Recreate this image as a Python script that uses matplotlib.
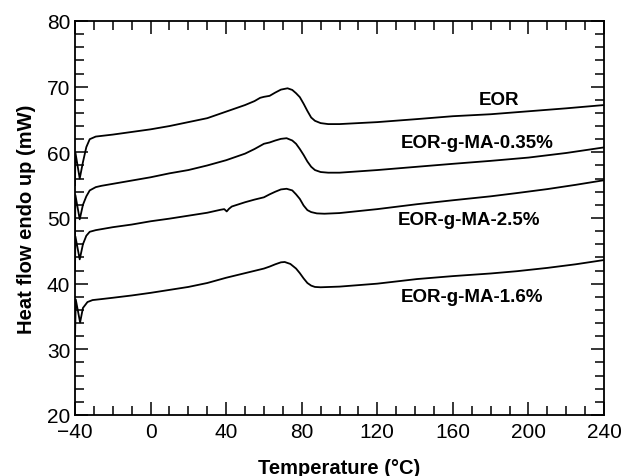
import matplotlib
matplotlib.use("Agg")
import matplotlib.pyplot as plt
from matplotlib.ticker import MultipleLocator

plt.rcParams["font.family"] = ["Liberation Sans", "DejaVu Sans"]

# DSC curves (temperature in C, heat flow in mW)
t_eor = [-40, -39.8, -37.5, -35.8, -34, -32.2, -29, -26, -20, -10, 0, 10, 20, 30, 40, 50, 55, 58, 60, 63, 66,
         69, 72.5, 75, 77, 79, 81, 83, 85, 87, 90, 94, 100, 120, 141, 160, 180, 200, 220, 240]
hf_eor = [55, 60, 56.0, 58.5, 60.8, 62.0, 62.4, 62.5, 62.7, 63.1, 63.5, 64.0, 64.6, 65.2, 66.2, 67.2, 67.8, 68.3,
          68.45, 68.6, 69.1, 69.55, 69.75, 69.5, 69.0, 68.4, 67.4, 66.3, 65.3, 64.8, 64.45, 64.3, 64.3, 64.6,
          65.06, 65.5, 65.8, 66.25, 66.7, 67.2]

t_035 = [-40, -39.8, -37.5, -35.8, -34, -32.2, -29, -26, -20, -10, 0, 10, 20, 30, 40, 50, 55, 60, 63, 66, 69,
         72, 75, 77, 79, 81, 83, 85, 87, 90, 94, 100, 120, 141, 160, 180, 200, 220, 240]
hf_035 = [47, 53.5, 49.8, 52.0, 53.3, 54.2, 54.7, 54.9, 55.2, 55.7, 56.2, 56.8, 57.3, 58.0, 58.8, 59.8, 60.5,
          61.3, 61.5, 61.8, 62.05, 62.15, 61.8, 61.3, 60.5, 59.6, 58.6, 57.8, 57.3, 57.0, 56.9, 56.9, 57.3, 57.8,
          58.25, 58.7, 59.2, 59.9, 60.75]

t_25 = [-40, -39.8, -37.5, -35.8, -34, -32.2, -29, -26, -20, -10, 0, 10, 20, 30, 37, 39, 40.3, 41.5, 43, 50, 55,
        60, 63, 66, 69, 72, 75, 77, 79, 81, 83, 85, 88, 92, 100, 120, 141, 160, 180, 194, 210, 225, 240]
hf_25 = [42, 47.2, 43.7, 46.0, 47.3, 47.9, 48.15, 48.3, 48.6, 49.0, 49.5, 49.9, 50.35, 50.8, 51.25, 51.35, 51.0,
         51.4, 51.75, 52.4, 52.8, 53.15, 53.6, 54.0, 54.35, 54.45, 54.2, 53.6, 52.9, 51.9, 51.2, 50.9, 50.7,
         50.65, 50.75, 51.35, 52.1, 52.7, 53.3, 53.8, 54.4, 55.05, 55.75]

t_16 = [-40, -39.6, -37.3, -35.8, -33.4, -30.7, -26, -20, -10, 0, 10, 20, 30, 40, 50, 55, 60, 63, 66, 69, 71, 74,
        77, 79, 81, 83, 85, 87, 90, 100, 120, 141, 160, 180, 194, 210, 225, 240]
hf_16 = [31.5, 37.6, 34.1, 36.3, 37.2, 37.5, 37.65, 37.85, 38.2, 38.6, 39.05, 39.5, 40.1, 40.9, 41.6, 41.95, 42.3,
         42.6, 42.95, 43.25, 43.3, 43.0, 42.3, 41.6, 40.8, 40.1, 39.7, 39.5, 39.45, 39.55, 40.0, 40.7, 41.15,
         41.55, 41.9, 42.4, 42.95, 43.6]

labels = ["EOR", "EOR-g-MA-0.35%", "EOR-g-MA-2.5%", "EOR-g-MA-1.6%"]
label_x = [184.5, 172.8, 168.4, 170.2]
label_y = [68.1, 61.5, 49.8, 38.1]

fig = plt.figure(figsize=(6.26, 4.77), dpi=100)
ax = fig.add_axes([0.1198, 0.1279, 0.8451, 0.8260])

for t, hf in [(t_eor, hf_eor), (t_035, hf_035), (t_25, hf_25), (t_16, hf_16)]:
    ax.plot(t, hf, color="black", lw=1.3)

for name, x, y in zip(labels, label_x, label_y):
    ax.text(x, y, name, ha="center", va="center", fontsize=13.5, fontweight="bold")

ax.set_xlim(-40, 240)
ax.set_ylim(20, 80)
ax.xaxis.set_major_locator(MultipleLocator(40))
ax.xaxis.set_minor_locator(MultipleLocator(10))
ax.yaxis.set_major_locator(MultipleLocator(10))
ax.yaxis.set_minor_locator(MultipleLocator(2))
ax.tick_params(which="both", direction="in", top=True, right=True, width=1.1, labelsize=15)
ax.tick_params(axis="x", which="major", pad=5)
ax.tick_params(which="major", length=9.5)
ax.tick_params(which="minor", length=6.5)
for s in ax.spines.values():
    s.set_linewidth(1.3)

ax.set_xlabel("Temperature (°C)", fontsize=14.5, fontweight="bold", labelpad=12)
ax.set_ylabel("Heat flow endo up (mW)", fontsize=14.5, fontweight="bold", labelpad=8)

fig.savefig("out.png", dpi=100)
